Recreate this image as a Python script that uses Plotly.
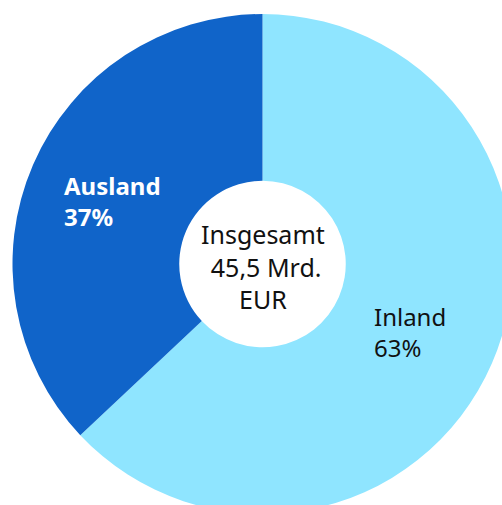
import plotly.graph_objects as go

REGIONS = ["Inland", "Ausland"]
SHARES = [63, 37]
TOTAL_LABEL = "Insgesamt"
TOTAL_VALUE = "45,5 Mrd."
TOTAL_UNIT = "EUR"
COLORS = ["#8FE5FF", "#1064C9"]

FONT = "Noto Sans, Open Sans, sans-serif"

# the chart is slightly larger than the window, so the pie is clipped at right/bottom
W, H = 525, 528

fig = go.Figure(
    go.Pie(
        labels=REGIONS,
        values=SHARES,
        hole=0.333,
        sort=False,
        direction="clockwise",
        rotation=0,
        marker={"colors": COLORS, "line": {"width": 0}},
        textinfo="none",
        hoverinfo="label+percent",
        domain={"x": [12.5 / W, 512.5 / W], "y": [1 - 514 / H, 1 - 14 / H]},
        showlegend=False,
    )
)


def px(x, y):
    return x / W, 1 - y / H


# slice labels
label_pos = {"Inland": (372, 332), "Ausland": (62, 201)}
label_color = {"Inland": "#111111", "Ausland": "#FFFFFF"}
for name, share in zip(REGIONS, SHARES):
    x, y = px(*label_pos[name])
    text = f"{name}<br>{share}%"
    if name == "Ausland":
        text = f"<b>{text}</b>"
    fig.add_annotation(
        x=x, y=y, xref="paper", yref="paper",
        xanchor="left", yanchor="middle", align="left",
        text=text, showarrow=False,
        font={"family": FONT, "size": 24, "color": label_color[name]},
    )

cx, cy = px(263, 266)
fig.add_annotation(
    x=cx, y=cy, xref="paper", yref="paper",
    xanchor="center", yanchor="middle", align="center",
    text=f"{TOTAL_LABEL}<br>&nbsp;{TOTAL_VALUE}<br>{TOTAL_UNIT}",
    showarrow=False,
    font={"family": FONT, "size": 25, "color": "#111111"},
)

fig.update_layout(
    width=W,
    height=H,
    margin={"l": 0, "r": 0, "t": 0, "b": 0},
    paper_bgcolor="white",
    plot_bgcolor="white",
)

fig.write_html(
    "out.html",
    config={"displayModeBar": False},
    post_script="document.body.style.margin='0';document.body.style.overflow='hidden';",
)
